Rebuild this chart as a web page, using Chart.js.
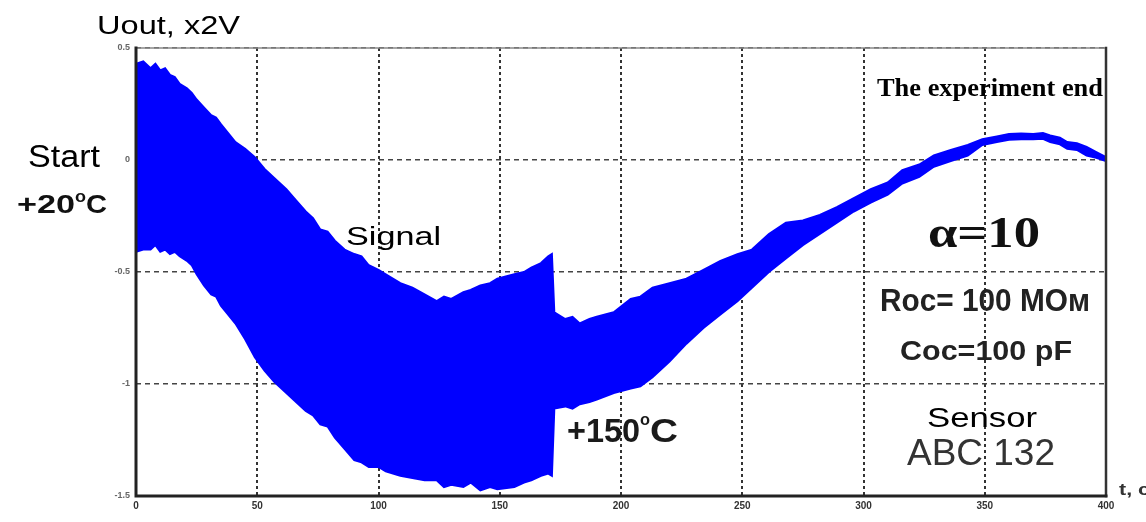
<!DOCTYPE html>
<html>
<head>
<meta charset="utf-8">
<script src="https://cdn.jsdelivr.net/npm/chart.js@4.4.1/dist/chart.umd.min.js"></script>
<style>
  html, body { margin: 0; padding: 0; background: #ffffff; }
  #wrap { width: 1146px; height: 522px; position: relative; }
</style>
</head>
<body>
<div id="wrap"><canvas id="c" width="1146" height="522"></canvas></div>
<script>
// ---- data (time in c, signal envelope in units of x2V) ----
const time = [0, 3, 6, 8, 10, 12, 14, 16, 18, 21, 23, 25, 28, 31, 33, 35, 38, 41, 45, 49, 53, 57, 62, 66, 70,
  73, 76, 79, 82, 86, 90, 93, 96, 100, 103, 109, 114, 119, 124, 127, 130, 135, 138, 142, 146, 149, 156, 160, 163, 167, 170, 171.5, 172.5,
  177, 180, 183, 187, 190, 197, 204, 208, 213, 220, 227, 234, 241, 248, 254, 261, 268, 275, 282, 289, 296, 303, 310,
  316, 323, 329, 336, 343, 349, 355, 360, 365, 370, 374, 377, 381, 384, 388, 392, 396, 400];
const upper = [0.43, 0.44, 0.41, 0.43, 0.40, 0.41, 0.38, 0.37, 0.34, 0.32, 0.30, 0.27, 0.235, 0.20, 0.19, 0.16, 0.12, 0.08, 0.05, 0.013, -0.04, -0.08, -0.13, -0.18, -0.23,
  -0.26, -0.31, -0.32, -0.36, -0.40, -0.42, -0.43, -0.47, -0.49, -0.51, -0.55, -0.57, -0.60, -0.63, -0.61, -0.62, -0.59, -0.58, -0.56, -0.55, -0.53, -0.51, -0.50, -0.48, -0.46, -0.43, -0.42, -0.68,
  -0.71, -0.70, -0.73, -0.71, -0.70, -0.68, -0.62, -0.61, -0.57, -0.55, -0.53, -0.49, -0.45, -0.42, -0.40, -0.33, -0.28, -0.27, -0.245, -0.21, -0.17, -0.13, -0.10,
  -0.045, -0.02, 0.02, 0.045, 0.067, 0.093, 0.105, 0.116, 0.118, 0.116, 0.12, 0.11, 0.10, 0.08, 0.075, 0.058, 0.035, 0.013];
const lower = [-0.41, -0.40, -0.40, -0.38, -0.41, -0.40, -0.42, -0.41, -0.43, -0.45, -0.47, -0.51, -0.56, -0.60, -0.61, -0.65, -0.69, -0.73, -0.80, -0.88, -0.94, -0.99, -1.04, -1.08, -1.12,
  -1.14, -1.18, -1.19, -1.24, -1.29, -1.34, -1.35, -1.37, -1.37, -1.39, -1.41, -1.42, -1.43, -1.43, -1.46, -1.45, -1.46, -1.44, -1.475, -1.46, -1.47, -1.46, -1.44, -1.43, -1.41, -1.40, -1.41, -1.11,
  -1.10, -1.11, -1.09, -1.08, -1.07, -1.04, -1.02, -1.01, -0.97, -0.90, -0.82, -0.75, -0.69, -0.63, -0.57, -0.50, -0.44, -0.38, -0.33, -0.28, -0.23, -0.19, -0.155,
  -0.105, -0.075, -0.03, -0.005, 0.02, 0.067, 0.08, 0.09, 0.093, 0.093, 0.095, 0.08, 0.07, 0.05, 0.045, 0.02, 0.01, -0.005];
const xTicks = [0, 50, 100, 150, 200, 250, 300, 350, 400];
const yTicks = [0.5, 0, -0.5, -1, -1.5];
const xTickLabels = ['0', '50', '100', '150', '200', '250', '300', '350', '400'];
const yTickLabels = ['0.5', '0', '-0.5', '-1', '-1.5'];

const SANS = "'Liberation Sans', Arial, sans-serif";
const SERIF = "'Liberation Serif', 'Times New Roman', serif";

// text fitted into a box: [text, x0, x1, capTop, baseline, family, weight, color, capRatio]
const notes = [
  ['Uout, x2V', 97, 240, 15, 34, SANS, 'normal', '#000', 0.716],
  ['Start', 28, 100, 144, 167, SANS, 'normal', '#000', 0.716],
  ['+20', 17, 75, 195, 213, SANS, 'bold', '#111', 0.716],
  ['o', 75, 86, 193, 202, SANS, 'bold', '#111', 0.52],
  ['C', 86, 107, 195, 213, SANS, 'bold', '#111', 0.716],
  ['Signal', 346, 441, 227, 245, SANS, 'normal', '#000', 0.716],
  ['+150', 567, 640, 418, 442, SANS, 'bold', '#1a1a1a', 0.716],
  ['o', 640, 650, 416, 425, SANS, 'bold', '#1a1a1a', 0.52],
  ['C', 650, 678, 418, 442, SANS, 'bold', '#1a1a1a', 0.716],
  ['The experiment end', 877, 1103, 80, 96, SERIF, 'bold', '#000', 0.66],
  ['\u03B1=10', 928, 1040, 218, 247, SERIF, 'bold', '#111', 0.66],
  ['Roc= 100 MO\u043C', 880, 1090, 289, 311, SANS, 'bold', '#222', 0.716],
  ['Coc=100 pF', 900, 1072, 340, 360, SANS, 'bold', '#222', 0.716],
  ['Sensor', 927, 1037, 407, 427, SANS, 'normal', '#000', 0.716],
  ['ABC 132', 907, 1055, 438, 465, SANS, 'normal', '#333', 0.716],
  ['t, c', 1119, 1150, 483, 495, SANS, 'bold', '#333', 0.716]
];

function fitText(ctx, n) {
  const [txt, x0, x1, top, base, fam, weight, color, ratio] = n;
  const size = (base - top) / ratio;
  ctx.save();
  ctx.font = weight + ' ' + size.toFixed(1) + 'px ' + fam;
  const w = ctx.measureText(txt).width;
  ctx.translate(x0, base);
  ctx.scale((x1 - x0) / w, 1);
  ctx.fillStyle = color;
  ctx.textAlign = 'left';
  ctx.textBaseline = 'alphabetic';
  ctx.fillText(txt, 0, 0);
  ctx.restore();
}

const framePlugin = {
  id: 'frame',
  afterDatasetsDraw(chart) {
    const ctx = chart.ctx;
    const a = chart.chartArea;
    ctx.save();
    ctx.lineCap = 'square';
    ctx.strokeStyle = '#888'; ctx.lineWidth = 1.5;
    ctx.beginPath(); ctx.moveTo(a.left, a.top); ctx.lineTo(a.right, a.top); ctx.stroke();
    ctx.strokeStyle = '#333'; ctx.lineWidth = 2.5;
    ctx.beginPath(); ctx.moveTo(a.right, a.top); ctx.lineTo(a.right, a.bottom); ctx.stroke();
    ctx.strokeStyle = '#222'; ctx.lineWidth = 3;
    ctx.beginPath(); ctx.moveTo(a.left, a.top); ctx.lineTo(a.left, a.bottom); ctx.lineTo(a.right, a.bottom); ctx.stroke();
    ctx.restore();
  },
  afterDraw(chart) {
    const ctx = chart.ctx;
    notes.forEach(n => fitText(ctx, n));
  }
};

const upperPts = time.map((t, i) => ({ x: t, y: upper[i] }));
const lowerPts = time.map((t, i) => ({ x: t, y: lower[i] }));

new Chart(document.getElementById('c'), {
  type: 'line',
  data: {
    datasets: [
      { label: 'upper', data: upperPts, borderColor: '#0000ff', backgroundColor: '#0000ff',
        borderWidth: 2, pointRadius: 0, fill: false, tension: 0 },
      { label: 'lower', data: lowerPts, borderColor: '#0000ff', backgroundColor: '#0000ff',
        borderWidth: 2, pointRadius: 0, fill: '-1', tension: 0 }
    ]
  },
  options: {
    responsive: false,
    animation: false,
    layout: { padding: { top: 48, right: 40, left: 0, bottom: 0 } },
    plugins: { legend: { display: false }, tooltip: { enabled: false }, title: { display: false } },
    scales: {
      x: {
        type: 'linear', min: 0, max: 400,
        afterBuildTicks(s) { s.ticks = xTicks.map(v => ({ value: v })); },
        afterFit(s) { s.height = 26; },
        ticks: {
          callback(v) { const i = xTicks.indexOf(v); return i >= 0 ? xTickLabels[i] : ''; },
          font: { family: SANS, size: 10, weight: 'bold' }, color: '#333', padding: 4, maxRotation: 0
        },
        grid: { color: '#333', lineWidth: 2, drawTicks: false },
        border: { display: false, dash: [3, 3] }
      },
      y: {
        type: 'linear', min: -1.5, max: 0.5,
        afterBuildTicks(s) { s.ticks = yTicks.map(v => ({ value: v })); },
        afterFit(s) { s.width = 136; },
        ticks: {
          callback(v) { const i = yTicks.indexOf(v); return i >= 0 ? yTickLabels[i] : ''; },
          font: { family: SANS, size: 9, weight: 'bold' }, color: '#666', padding: 6
        },
        grid: { color: '#444', lineWidth: 1.5, drawTicks: false },
        border: { display: false, dash: [5, 4] }
      }
    }
  },
  plugins: [framePlugin]
});
</script>
</body>
</html>
